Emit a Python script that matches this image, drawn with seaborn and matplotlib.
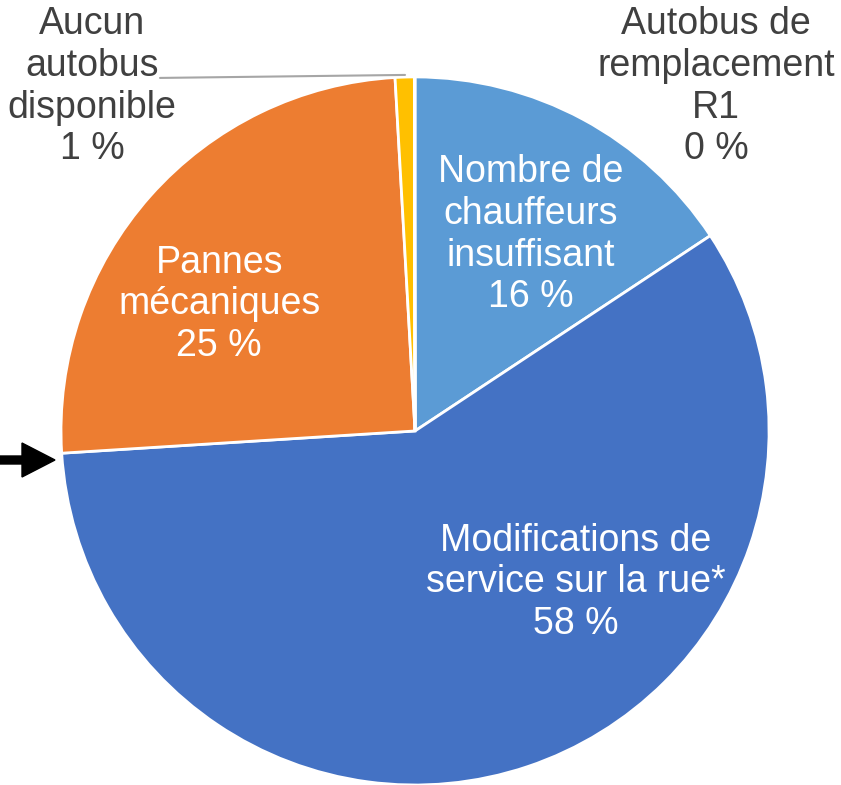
import matplotlib
matplotlib.use("Agg")
import matplotlib.pyplot as plt
import seaborn as sns

categories = ["Nombre de\nchauffeurs\ninsuffisant",
              "Modifications de\nservice sur la rue*",
              "Pannes\nmécaniques",
              "Aucun\nautobus\ndisponible",
              "Autobus de\nremplacement\nR1"]
values = [15.7, 58.3, 25.1, 0.87, 0.03]
colors = ["#5B9BD5", "#4472C4", "#ED7D31", "#FFC000", "#A5A5A5"]

sns.set_theme(style="white")
plt.rcParams['font.family'] = ['Liberation Sans', 'DejaVu Sans']

fig = plt.figure(figsize=(8.41, 7.85), dpi=100)
ax = fig.add_axes([0.0725, 0.0, 0.842, 0.902])
ax.pie(values, colors=colors, startangle=90, counterclock=False,
       wedgeprops=dict(edgecolor="white", linewidth=2.0), radius=1.0)
ax.set_xlim(-1, 1)
ax.set_ylim(-1, 1)
ax.set_aspect("equal")
ax.axis("off")

# label positions (data coords) and colors
label_pos = [(0.327, 0.554), (0.453, -0.427), (-0.553, 0.358), (-0.912, 0.972), (0.850, 0.972)]
label_col = ["white", "white", "white", "#404040", "#404040"]
for cat, v, (x, y), c in zip(categories, values, label_pos, label_col):
    ax.text(x, y, f"{cat}\n{v:.0f} %", ha="center", va="center", color=c,
            fontsize=27, linespacing=1.2, clip_on=False)

# leader line for "Aucun autobus disponible"
ax.plot([(160 - 415) / 354, (405 - 415) / 354], [(431 - 78) / 354, (431 - 75) / 354],
        color="#A6A6A6", lw=1.5, clip_on=False)

# arrow at left
fig.patches.append(matplotlib.patches.FancyArrow(
    0.0, 1 - 460 / 785, 55 / 841, 0, width=8 / 785, head_width=34 / 785,
    head_length=33 / 841, length_includes_head=True, color="black",
    transform=fig.transFigure, figure=fig))

fig.savefig("out.png", dpi=100)
